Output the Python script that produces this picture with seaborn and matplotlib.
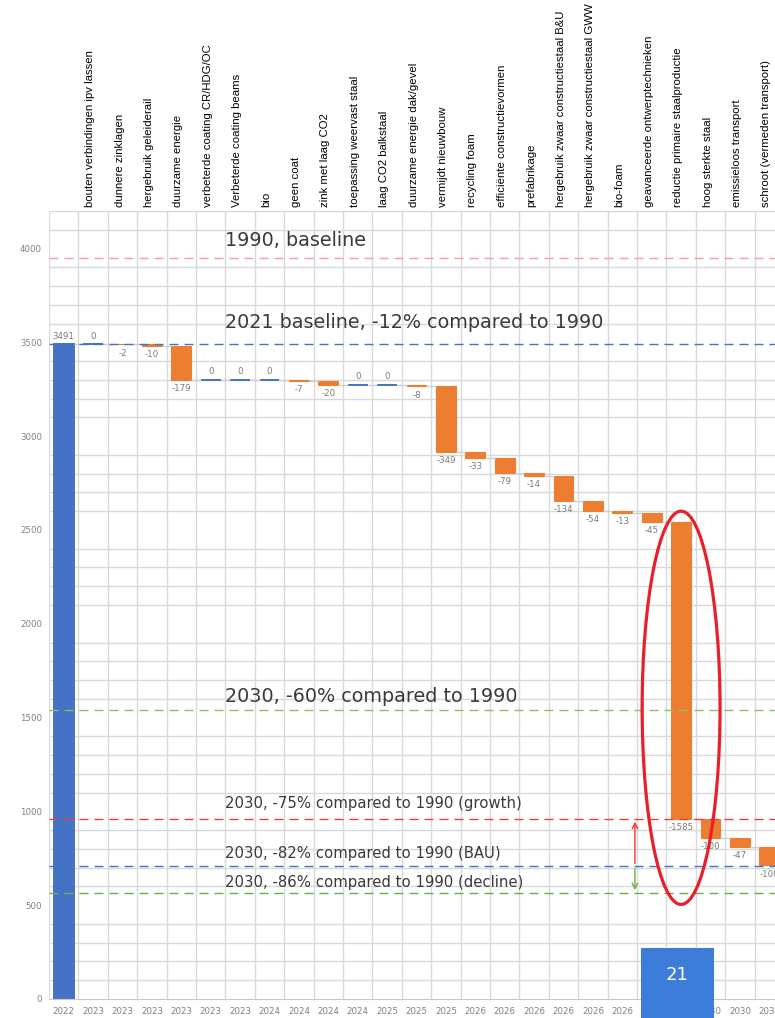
import numpy as np
import pandas as pd
import matplotlib
matplotlib.use("Agg")
import matplotlib.pyplot as plt
import seaborn as sns
from matplotlib.patches import Ellipse, Rectangle

# --- data ---
measures = [
    "bouten verbindingen ipv lassen", "dunnere zinklagen", "hergebruik geleiderail",
    "duurzame energie", "verbeterde coating CR/HDG/OC", "Verbeterde coating beams",
    "bio", "geen coat", "zink met laag CO2", "toepassing weervast staal",
    "laag CO2 balkstaal", "duurzame energie dak/gevel", "vermijdt nieuwbouw",
    "recycling foam", "efficiënte constructievormen", "prefabrikage",
    "hergebruik zwaar constructiestaal B&U", "hergebruik zwaar constructiestaal GWW",
    "bio-foam", "geavanceerde ontwerptechnieken", "reductie primaire staalproductie",
    "hoog sterkte staal", "emissieloos transport", "schroot (vermeden transport)",
]
deltas = [0, -2, -10, -179, 0, 0, 0, -7, -20, 0, 0, -8, -349, -33, -79, -14,
          -134, -54, -13, -45, -1585, -100, -47, -100]
baseline_2021 = 3491
years = ["2022", "2023", "2023", "2023", "2023", "2023", "2023", "2024", "2024",
         "2024", "2024", "2025", "2025", "2025", "2026", "2026", "2026", "2026",
         "2026", "2026", "2026", "2030", "2030", "2030", "2030"]

target_labels = ["1990, baseline", "2021 baseline, -12% compared to 1990",
                 "2030, -60% compared to 1990", "2030, -75% compared to 1990 (growth)",
                 "2030, -82% compared to 1990 (BAU)", "2030, -86% compared to 1990 (decline)"]
target_values = [3947, 3491, 1541, 960, 708, 565]
page_number = "21"

# --- styling ---
BLUE = "#4472C4"
ORANGE = "#ED7D31"
GRID = "#d9d9d9"
target_colors = ["#ff9a9a", BLUE, "#8cc063", "#f23b3b", BLUE, "#70AD47"]
target_sizes = [13.8, 13.8, 13.8, 10.7, 10.7, 10.7]
target_text_y = [4016, 3579, 1584, 1019, 752, 597]

# --- waterfall geometry ---
steps = ["baseline"] + measures
level_after = baseline_2021 + np.cumsum(deltas)
level_before = np.r_[baseline_2021, level_after[:-1]]
df = pd.DataFrame({
    "step": steps,
    "delta": [baseline_2021] + deltas,
    "bottom": np.r_[0, np.minimum(level_before, level_after)],
    "height": np.r_[baseline_2021, np.abs(deltas)],
})
df["kind"] = np.where(df["delta"] >= 0, "up", "down")
df["top"] = df["bottom"] + df["height"]

sns.set_style("white")
plt.rcParams["font.family"] = ["DejaVu Sans"]

fig = plt.figure(figsize=(7.75, 10.18), dpi=100)
ax = fig.add_axes([49 / 775, 19 / 1018, 735 / 775, 788 / 1018])

for kind, colour, lw in [("up", BLUE, 1.4), ("down", ORANGE, 0.8)]:
    sub = df[df["kind"] == kind]
    sns.barplot(data=sub, x="step", y="height", order=steps,
                bottom=sub["bottom"].to_numpy(), color=colour, saturation=1,
                width=0.67, errorbar=None, edgecolor=colour, linewidth=lw, ax=ax)

# connectors between bars
running = np.r_[level_before[0], level_after]
for i in range(len(steps) - 1):
    ax.hlines(running[i], i + 0.335, i + 1 - 0.335, color="#cfcfcf", lw=1, zorder=1)

# value labels
for i, row in df.iterrows():
    if row["delta"] < 0:
        ax.annotate(f"{row['delta']:.0f}", (i, row["bottom"]), xytext=(0, -3),
                    textcoords="offset points", ha="center", va="top",
                    fontsize=6.2, color="#7a7a7a")
    else:
        ax.annotate(f"{row['delta']:.0f}", (i, row["top"]), xytext=(0, 2.5),
                    textcoords="offset points", ha="center", va="bottom",
                    fontsize=6.2, color="#7a7a7a")

# measure names on top
for i, name in enumerate(measures, start=1):
    ax.text(i - 0.1, 4222, name, rotation=90, ha="center", va="bottom",
            fontsize=8.2, family="Liberation Sans", color="black", clip_on=False)

# target lines
for label, value, colour, size, ty in zip(target_labels, target_values,
                                           target_colors, target_sizes, target_text_y):
    ax.axhline(value, color=colour, ls=(0, (6.5, 4.3)), lw=1.0, zorder=3)
    ax.text(5.49, ty, label, fontsize=size, color="#3a3a3a", va="baseline", zorder=4)

ax.annotate("", xy=(19.43, target_values[3]), xytext=(19.43, target_values[4]),
            arrowprops=dict(arrowstyle="->", color="#ff3030", lw=1), zorder=5)
ax.annotate("", xy=(19.43, target_values[5]), xytext=(19.43, target_values[4]),
            arrowprops=dict(arrowstyle="->", color="#70AD47", lw=1), zorder=5)

ax.add_patch(Ellipse((21, 1552), width=2.65, height=2096, fill=False,
                     edgecolor="#e8202a", lw=2.3, zorder=6))

# axes and grid
ax.set_xlim(-0.5, len(steps) - 0.5)
ax.set_ylim(0, 4200)
ax.set_yticks(np.arange(0, 4001, 500))
ax.set_yticks(np.arange(0, 4201, 100), minor=True)
ax.set_xticks(np.arange(len(steps)))
ax.set_xticks(np.arange(-0.5, len(steps), 1), minor=True)
ax.set_xticklabels(years)
ax.grid(False)
ax.grid(which="minor", axis="both", color=GRID, lw=1)
ax.set_axisbelow(True)
ax.tick_params(which="both", length=0, labelsize=6.2, labelcolor="#808080")
ax.tick_params(axis="x", pad=6)
ax.tick_params(axis="y", pad=5)
ax.set_xlabel("")
ax.set_ylabel("")
for side in ["top", "right", "left"]:
    ax.spines[side].set_visible(False)
ax.spines["bottom"].set_color("#c8c8c8")

# slide page number box
fig.add_artist(Rectangle((641 / 775, 0), 73 / 775, 70 / 1018, transform=fig.transFigure,
                         facecolor="#3b7dd8", edgecolor="none", zorder=10))
fig.text(677.5 / 775, 43 / 1018, page_number, color="white", fontsize=13,
         ha="center", va="center", zorder=11)

fig.savefig("out.png", dpi=100)
